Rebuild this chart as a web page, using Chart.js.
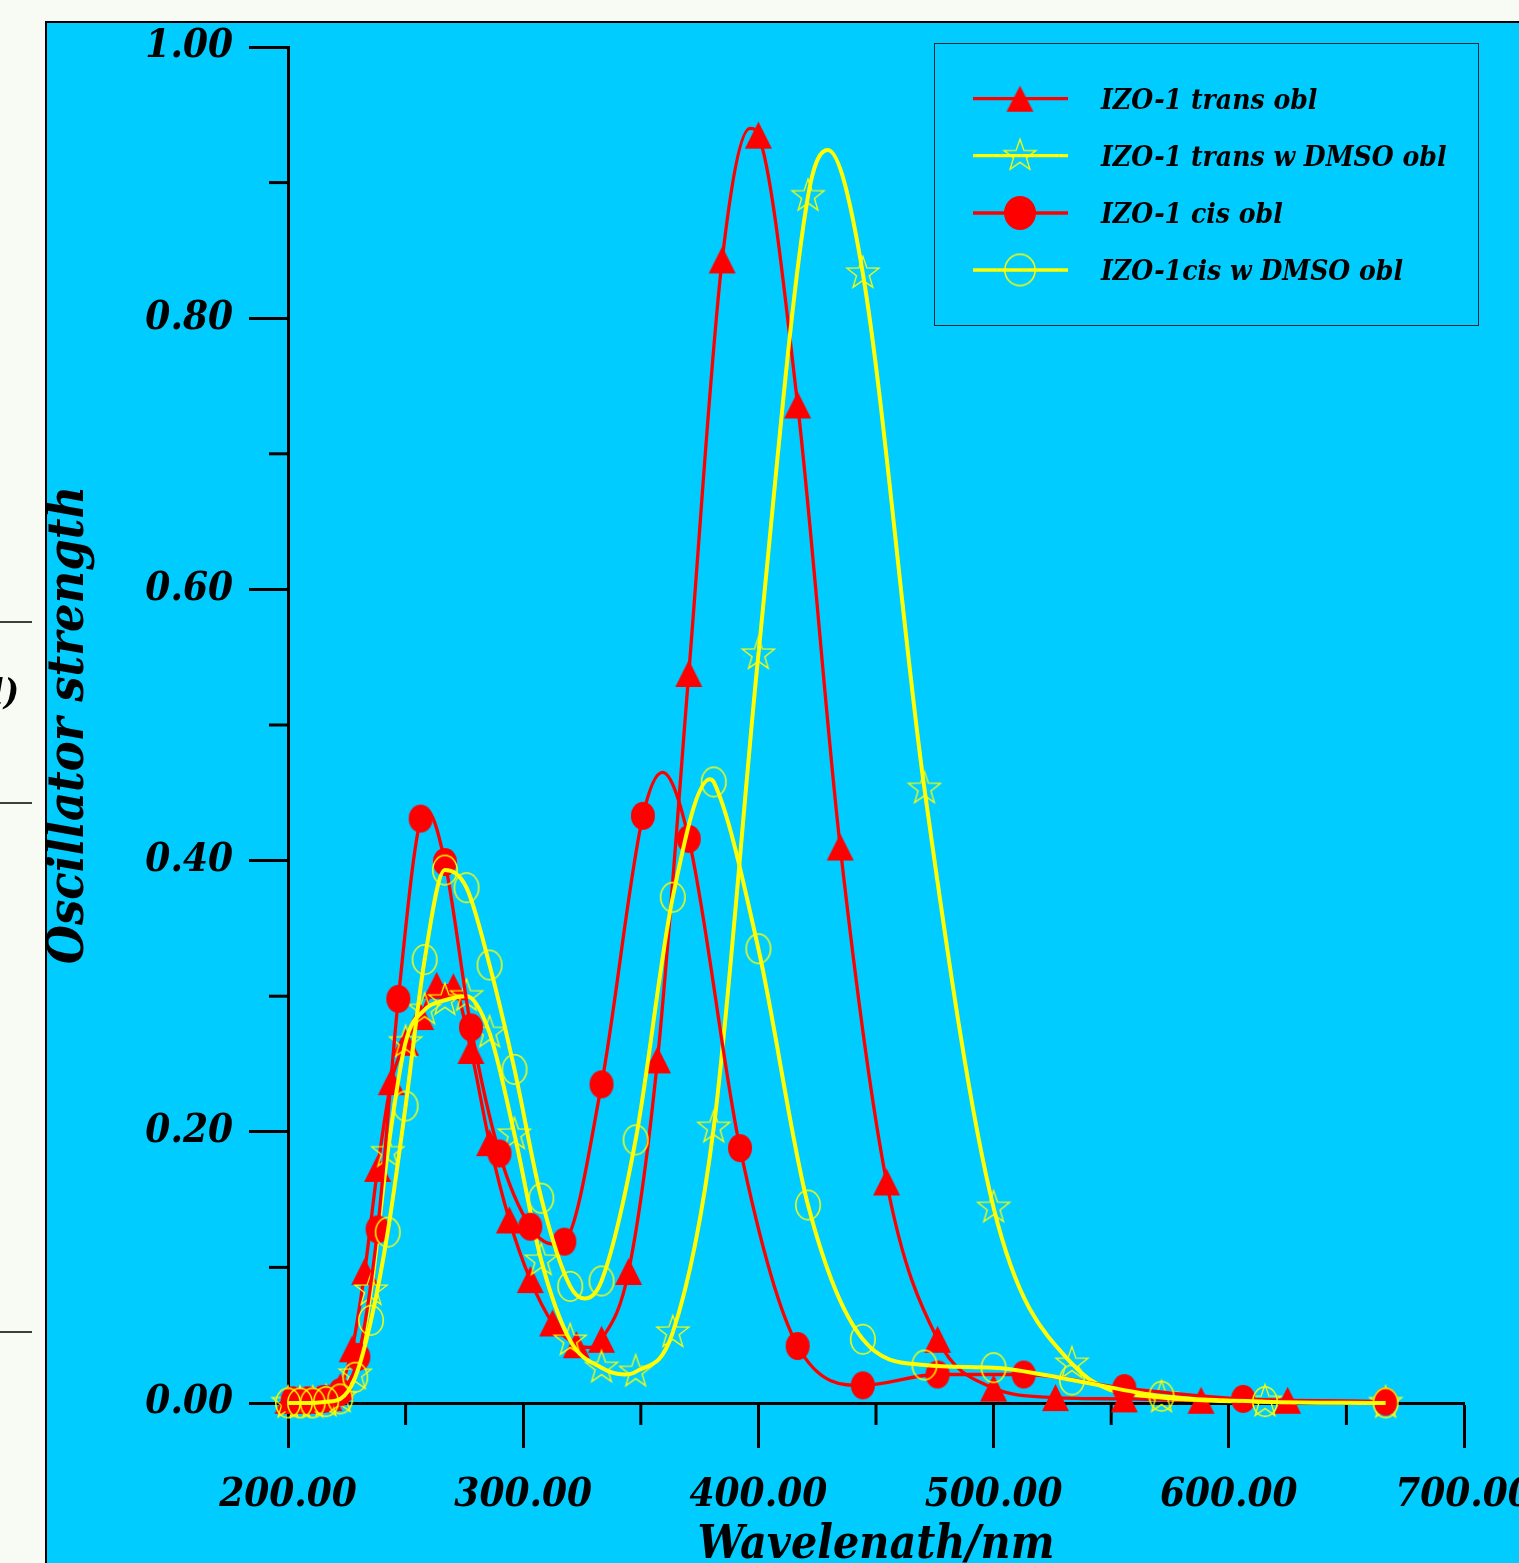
<!DOCTYPE html>
<html>
<head>
<meta charset="utf-8">
<title>Oscillator strength</title>
<script src="https://cdn.jsdelivr.net/npm/chart.js@4.4.1/dist/chart.umd.min.js"></script>
<style>
  html, body { margin: 0; padding: 0; background: #f8fbf4; }
  #wrap { width: 1519px; height: 1563px; }
</style>
</head>
<body>
<div id="wrap"><canvas id="spectrum" width="1519" height="1563"></canvas></div>
<script>
// Series labels (legend order)
const seriesLabels = ['IZO-1 trans obl', 'IZO-1 trans w DMSO obl', 'IZO-1 cis obl', 'IZO-1cis w DMSO obl'];

// IZO-1 trans obl (red, triangles) - marker points
const transWl = [200.0, 204.1, 208.3, 212.8, 217.4, 222.2, 227.3, 232.6, 238.1, 243.9, 250.0, 256.4, 263.2, 270.3, 277.8,
                 285.7, 294.1, 303.0, 312.5, 322.6, 333.3, 344.8, 357.1, 370.4, 384.6, 400.0, 416.7, 434.8, 454.5, 476.2,
                 500.0, 526.3, 555.6, 588.2, 625.0];
const transF  = [0.002, 0.002, 0.002, 0.003, 0.004, 0.012, 0.040, 0.097, 0.173, 0.237, 0.266, 0.285, 0.308, 0.307, 0.260,
                 0.192, 0.135, 0.091, 0.059, 0.043, 0.047, 0.097, 0.253, 0.538, 0.843, 0.935, 0.736, 0.410, 0.163, 0.047,
                 0.011, 0.004, 0.003, 0.002, 0.002];
// extra points (between markers)
const transCurveWl = [328.0, 396.5, 666.7];
const transCurveF  = [0.041, 0.940, 0.001];

// IZO-1 trans w DMSO obl (yellow, stars)
const transDmsoWl = [200.0, 205.1, 210.5, 216.2, 222.2, 228.6, 235.3, 242.4, 250.0, 258.1, 266.7, 275.9, 285.7, 296.3, 307.7,
                     320.0, 333.3, 347.8, 363.6, 381.0, 400.0, 421.1, 444.4, 470.6, 500.0, 533.3, 571.4, 615.4, 666.7];
const transDmsoF  = [0.000, 0.000, 0.000, 0.001, 0.004, 0.021, 0.083, 0.185, 0.266, 0.290, 0.297, 0.300, 0.273, 0.198, 0.105,
                     0.046, 0.026, 0.023, 0.052, 0.203, 0.552, 0.890, 0.833, 0.453, 0.144, 0.029, 0.004, 0.001, 0.000];
const transDmsoCurveWl = [343.0, 429.5];
const transDmsoCurveF  = [0.021, 0.924];

// IZO-1 cis obl (red, filled circles)
const cisWl = [202.0, 208.3, 215.1, 222.2, 229.9, 238.1, 246.9, 256.4, 266.7, 277.8, 289.9, 303.0, 317.5, 333.3, 350.9,
               370.4, 392.2, 416.7, 444.4, 476.2, 512.8, 555.6, 606.1, 666.7];
const cisF  = [0.002, 0.002, 0.003, 0.008, 0.034, 0.128, 0.298, 0.431, 0.399, 0.277, 0.184, 0.130, 0.119, 0.235, 0.433,
               0.416, 0.188, 0.042, 0.013, 0.021, 0.021, 0.011, 0.003, 0.001];
const cisCurveWl = [200.0, 259.0, 313.0, 359.2];
const cisCurveF  = [0.002, 0.437, 0.117, 0.465];

// IZO-1cis w DMSO obl (yellow, open circles)
const cisDmsoWl = [200.0, 205.1, 210.5, 216.2, 222.2, 228.6, 235.3, 242.4, 250.0, 258.1, 266.7, 275.9, 285.7, 296.3, 307.7,
                   320.0, 333.3, 347.8, 363.6, 381.0, 400.0, 421.1, 444.4, 470.6, 500.0, 533.3, 571.4, 615.4, 666.7];
const cisDmsoF  = [0.000, 0.000, 0.000, 0.001, 0.003, 0.019, 0.061, 0.126, 0.219, 0.327, 0.393, 0.380, 0.323, 0.246, 0.151,
                   0.086, 0.090, 0.194, 0.373, 0.458, 0.335, 0.146, 0.047, 0.028, 0.026, 0.017, 0.005, 0.001, 0.000];
const cisDmsoCurveWl = [326.2, 379.3];
const cisDmsoCurveF  = [0.077, 0.460];

// Axis ranges / titles
const xRange = [200, 700];
const yRange = [0, 1];
const xTitle = 'Wavelenath/nm';
const yTitle = 'Oscillator strength';

const RED = '#ff0000';
const YELLOW = '#ffff00';
const CYAN = '#00ccff';
const FONT = "'DejaVu Serif Condensed', 'DejaVu Serif', serif";

function points(xs, ys) {
    return xs.map((x, i) => ({ x: x, y: ys[i] }));
}

function curvePoints(xs, ys, exs, eys) {
    return points(xs, ys).concat(points(exs, eys)).sort((a, b) => a.x - b.x);
}

// marker bitmaps, used as Chart.js pointStyle
function makeMarker(kind, w, h) {
    const pad = 2;
    const c = document.createElement('canvas');
    let ch = h;
    if (kind === 'star') ch = 2 * h / 1.809;
    c.width = Math.ceil(w + pad * 2);
    c.height = Math.ceil(ch + pad * 2);
    const g = c.getContext('2d');
    const cx = c.width / 2, cy = c.height / 2;
    g.beginPath();
    if (kind === 'triangle') {
        g.moveTo(cx, cy - h / 2);
        g.lineTo(cx + w / 2, cy + h / 2);
        g.lineTo(cx - w / 2, cy + h / 2);
        g.closePath();
        g.fillStyle = RED;
        g.fill();
    } else if (kind === 'dot') {
        g.ellipse(cx, cy, w / 2, h / 2, 0, 0, Math.PI * 2);
        g.fillStyle = RED;
        g.fill();
    } else if (kind === 'ring') {
        g.ellipse(cx, cy, w / 2 - 0.8, h / 2 - 0.8, 0, 0, Math.PI * 2);
        g.strokeStyle = YELLOW;
        g.lineWidth = 1.5;
        g.stroke();
    } else if (kind === 'star') {
        const sx = w / (2 * 0.951), sy = ch / 2;
        for (let i = 0; i < 10; i++) {
            const a = -Math.PI / 2 + i * Math.PI / 5;
            const r = i % 2 === 0 ? 1 : 0.4;
            const px = cx + sx * r * Math.cos(a), py = cy + sy * r * Math.sin(a);
            if (i === 0) g.moveTo(px, py); else g.lineTo(px, py);
        }
        g.closePath();
        g.strokeStyle = YELLOW;
        g.lineWidth = 1.3;
        g.stroke();
    }
    return c;
}

const triMark = makeMarker('triangle', 27, 27);
const starMark = makeMarker('star', 32, 31);
const dotMark = makeMarker('dot', 24, 28);
const ringMark = makeMarker('ring', 26, 31);

const legendMarks = [
    makeMarker('triangle', 27, 26),
    makeMarker('star', 32, 30),
    makeMarker('dot', 32, 34),
    makeMarker('ring', 32, 33)
];
const legendColors = [RED, YELLOW, RED, YELLOW];

function lineSet(label, data, color, width, order) {
    return {
        label: label, data: data, borderColor: color, borderWidth: width,
        pointRadius: 0, fill: false, showLine: true, cubicInterpolationMode: 'monotone',
        order: order, clip: false
    };
}

function markSet(label, data, img, order) {
    return {
        label: label, data: data, showLine: false, pointStyle: img, pointRadius: 14,
        borderWidth: 0, backgroundColor: 'rgba(0,0,0,0)', borderColor: 'rgba(0,0,0,0)',
        order: order, clip: false
    };
}

// page background, cyan panel and the cropped neighbour figure on the left
const backdrop = {
    id: 'backdrop',
    beforeDraw(chart) {
        const ctx = chart.ctx;
        ctx.save();
        ctx.fillStyle = '#f8fbf4';
        ctx.fillRect(0, 0, chart.width, chart.height);
        ctx.fillStyle = CYAN;
        ctx.fillRect(46, 22, chart.width - 46, chart.height - 22);
        ctx.strokeStyle = '#000';
        ctx.lineWidth = 2;
        ctx.beginPath();
        ctx.moveTo(46, chart.height);
        ctx.lineTo(46, 22);
        ctx.lineTo(chart.width, 22);
        ctx.stroke();
        ctx.lineWidth = 1.5;
        [622, 803, 1332].forEach(y => {
            ctx.beginPath();
            ctx.moveTo(0, y);
            ctx.lineTo(32, y);
            ctx.stroke();
        });
        ctx.fillStyle = '#000';
        ctx.font = 'bold italic 36px ' + FONT;
        ctx.textAlign = 'right';
        ctx.fillText('al)', 19, 704);
        ctx.restore();
    }
};

// short minor ticks at 0.1 / 50 nm steps
const minorTicks = {
    id: 'minorTicks',
    beforeDatasetsDraw(chart) {
        const ctx = chart.ctx;
        const xs = chart.scales.x, ys = chart.scales.y;
        ctx.save();
        ctx.strokeStyle = '#000';
        ctx.lineWidth = 3;
        ys.ticks.forEach(t => {
            if (Math.round(t.value * 10) % 2 !== 0) {
                const py = ys.getPixelForValue(t.value);
                ctx.beginPath();
                ctx.moveTo(xs.left - 19, py);
                ctx.lineTo(xs.left, py);
                ctx.stroke();
            }
        });
        xs.ticks.forEach(t => {
            if (t.value % 100 !== 0) {
                const px = xs.getPixelForValue(t.value);
                ctx.beginPath();
                ctx.moveTo(px, ys.bottom);
                ctx.lineTo(px, ys.bottom + 22);
                ctx.stroke();
            }
        });
        ctx.restore();
    }
};

// boxed legend with line + marker samples
const boxLegend = {
    id: 'boxLegend',
    afterDraw(chart) {
        const ctx = chart.ctx;
        ctx.save();
        ctx.strokeStyle = '#1b2a30';
        ctx.lineWidth = 1;
        ctx.strokeRect(934.5, 43.5, 544, 282);
        const rowY = [98.7, 155.7, 213, 270];
        seriesLabels.forEach((label, i) => {
            const y = rowY[i];
            ctx.strokeStyle = legendColors[i];
            ctx.lineWidth = 3.3;
            ctx.beginPath();
            ctx.moveTo(973, y);
            ctx.lineTo(1068, y);
            ctx.stroke();
            const m = legendMarks[i];
            ctx.drawImage(m, 1020 - m.width / 2, y - m.height / 2);
            ctx.fillStyle = '#000';
            ctx.font = 'bold italic 28px ' + FONT;
            ctx.textAlign = 'left';
            ctx.textBaseline = 'alphabetic';
            ctx.fillText(label, 1101, y + 10);
        });
        ctx.restore();
    }
};

const tickFont = { family: FONT, size: 40, style: 'italic', weight: 'bold' };

new Chart(document.getElementById('spectrum'), {
    type: 'line',
    data: {
        datasets: [
            lineSet(seriesLabels[0], curvePoints(transWl, transF, transCurveWl, transCurveF), RED, 3.3, 8),
            markSet(seriesLabels[0], points(transWl, transF), triMark, 7),
            lineSet(seriesLabels[1], curvePoints(transDmsoWl, transDmsoF, transDmsoCurveWl, transDmsoCurveF), YELLOW, 4, 6),
            markSet(seriesLabels[1], points(transDmsoWl, transDmsoF), starMark, 5),
            lineSet(seriesLabels[2], curvePoints(cisWl, cisF, cisCurveWl, cisCurveF), RED, 3.3, 4),
            markSet(seriesLabels[2], points(cisWl, cisF), dotMark, 3),
            lineSet(seriesLabels[3], curvePoints(cisDmsoWl, cisDmsoF, cisDmsoCurveWl, cisDmsoCurveF), YELLOW, 4, 2),
            markSet(seriesLabels[3], points(cisDmsoWl, cisDmsoF), ringMark, 1)
        ]
    },
    options: {
        responsive: false,
        maintainAspectRatio: false,
        animation: false,
        events: [],
        layout: { padding: { left: 0, top: 47, right: 55, bottom: 0 } },
        plugins: {
            legend: { display: false },
            tooltip: { enabled: false }
        },
        scales: {
            x: {
                type: 'linear',
                position: 'bottom',
                min: xRange[0],
                max: xRange[1],
                ticks: {
                    stepSize: 50,
                    autoSkip: false,
                    maxRotation: 0,
                    minRotation: 0,
                    padding: 24,
                    color: '#000',
                    font: tickFont,
                    callback: v => (v % 100 === 0 ? v.toFixed(2) : '')
                },
                grid: {
                    drawOnChartArea: false,
                    drawTicks: true,
                    tickLength: 45,
                    tickWidth: 3,
                    tickColor: c => (c.tick && c.tick.value % 100 === 0 ? '#000' : 'rgba(0,0,0,0)')
                },
                border: { display: true, color: '#000', width: 3 },
                title: {
                    display: true,
                    text: xTitle,
                    color: '#000',
                    font: { family: FONT, size: 46, style: 'italic', weight: 'bold', lineHeight: 0.75 },
                    padding: { top: 0, bottom: 0 }
                },
                afterFit: s => { s.height = 160; s.paddingLeft = 0; s.paddingRight = 0; }
            },
            y: {
                type: 'linear',
                position: 'left',
                min: yRange[0],
                max: yRange[1],
                ticks: {
                    stepSize: 0.1,
                    autoSkip: false,
                    padding: 16,
                    color: '#000',
                    font: tickFont,
                    callback: v => (Math.round(v * 10) % 2 === 0 ? v.toFixed(2) : '')
                },
                grid: {
                    drawOnChartArea: false,
                    drawTicks: true,
                    tickLength: 39,
                    tickWidth: 3,
                    tickColor: c => (c.tick && Math.round(c.tick.value * 10) % 2 === 0 ? '#000' : 'rgba(0,0,0,0)')
                },
                border: { display: true, color: '#000', width: 3 },
                title: {
                    display: true,
                    text: yTitle,
                    color: '#000',
                    font: { family: FONT, size: 50, style: 'italic', weight: 'bold', lineHeight: 1.2 },
                    padding: { top: 40, bottom: 0 }
                },
                afterFit: s => { s.width = 288; s.paddingTop = 0; s.paddingBottom = 0; }
            }
        }
    },
    plugins: [backdrop, minorTicks, boxLegend]
});
</script>
</body>
</html>
